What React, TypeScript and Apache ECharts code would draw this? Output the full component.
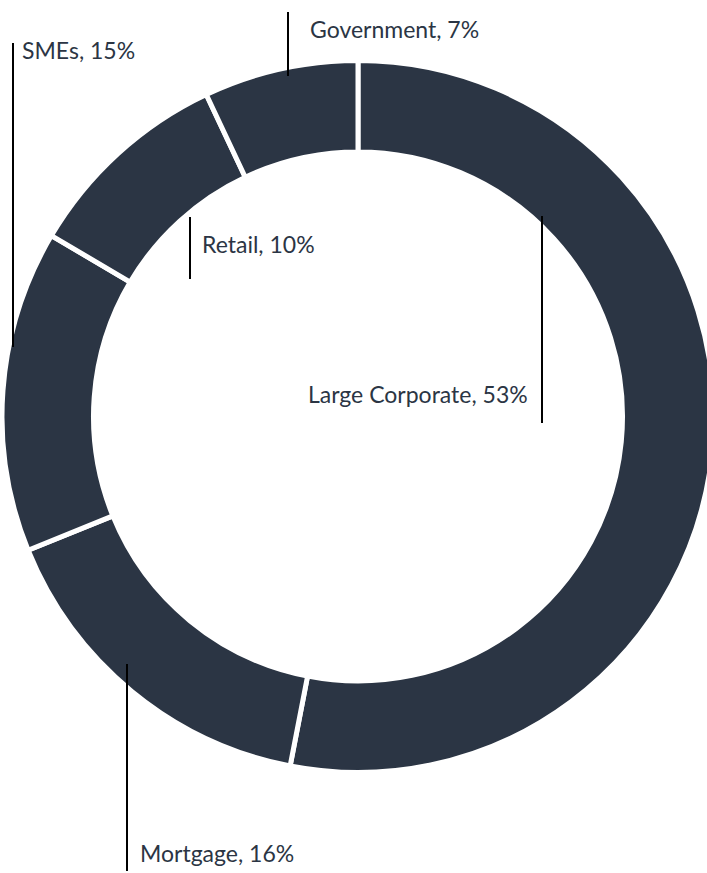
import React, { useEffect, useRef } from "react";
import * as echarts from "echarts";

const categories = ["Large Corporate", "Mortgage", "SMEs", "Retail", "Government"];
const shares = [53.0, 15.8, 14.6, 9.5, 7.0];

// label anchor layout: [textLeft, textBaseline, lineX, lineTop, lineBottom]
const labelLayout: Record<string, number[]> = {
  "Large Corporate": [308, 402, 542, 216, 423],
  Mortgage: [140, 861, 127, 664, 871],
  SMEs: [22, 58, 13, 43, 347],
  Retail: [202, 252, 190, 217, 279],
  Government: [310, 37, 288, 12, 76],
};

const SLICE = "#2b3544";
const TEXT = "#2b3544";
const FONT = "Lato";

export default function App() {
  const ref = useRef<HTMLDivElement>(null);
  useEffect(() => {
    if (!ref.current) return;
    const chart = echarts.init(ref.current, null, { renderer: "svg" });
    const graphics: any[] = [];
    categories.forEach((c, i) => {
      const [tx, ty, lx, l0, l1] = labelLayout[c];
      graphics.push({
        type: "line",
        z: 100,
        shape: { x1: lx, y1: l0, x2: lx, y2: l1 },
        style: { stroke: "#000", lineWidth: 2 },
      });
      graphics.push({
        type: "text",
        z: 100,
        x: tx,
        y: ty - 8,
        style: {
          text: `${c}, ${Math.round(shares[i])}%`,
          fill: TEXT,
          font: `23px ${FONT}`,
          verticalAlign: "middle",
          align: "left",
        },
      });
    });
    chart.setOption({
      animation: false,
      series: [
        {
          type: "pie",
          center: [358, 416.5],
          radius: [264.5, 356],
          startAngle: 90,
          clockwise: true,
          label: { show: false },
          labelLine: { show: false },
          silent: true,
          itemStyle: { color: SLICE, borderColor: "#fff", borderWidth: 5 },
          data: categories.map((c, i) => ({ name: c, value: shares[i] })),
        },
      ],
      graphic: graphics,
    });
    return () => chart.dispose();
  }, []);
  return (
    <div
      ref={ref}
      style={{ position: "fixed", left: 0, top: 0, width: 707, height: 873, background: "#fff" }}
    />
  );
}
